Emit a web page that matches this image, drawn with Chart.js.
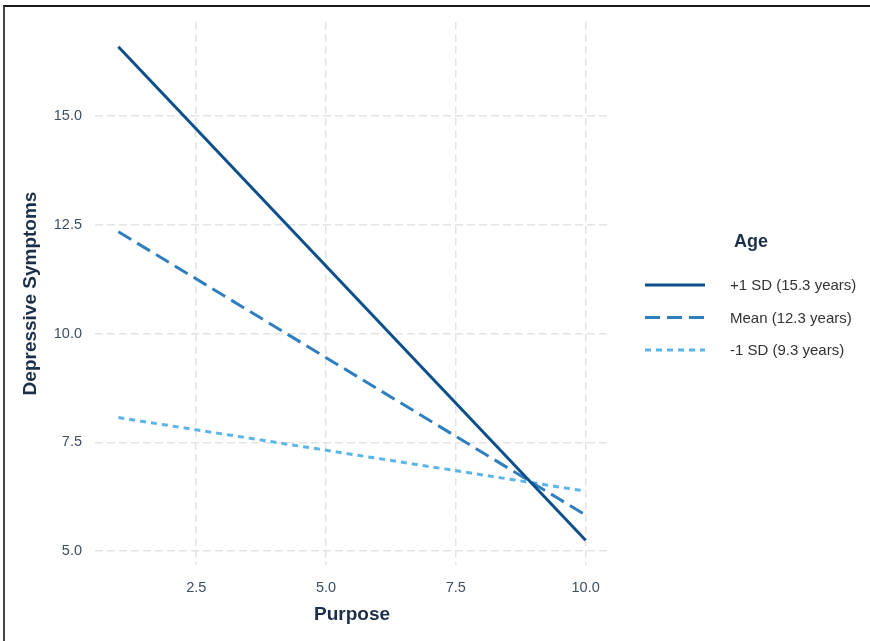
<!DOCTYPE html>
<html lang="en">
<head>
  <meta charset="UTF-8">
  <title>Purpose x Age: Depressive Symptoms</title>
  <style>
    html, body { margin: 0; padding: 0; background: #fff; }
    #wrap { position: relative; width: 870px; height: 641px; overflow: hidden; }
    #frame { position: absolute; left: 3px; top: 5px; right: -4px; bottom: -4px;
             border-top: 2px solid #1a1a1a; border-left: 2px solid #444; pointer-events: none; }
    canvas { position: absolute; left: 0; top: 0; }
  </style>
  <script src="https://cdn.jsdelivr.net/npm/chart.js"></script>
</head>
<body>
  <div id="wrap">
    <canvas id="chart" width="870" height="641"></canvas>
    <div id="frame"></div>
  </div>
  <script>
    // values (simple slopes at Purpose = 1 and 10)
    const purpose = [1, 10];
    const plus1SD = [16.59, 5.25];
    const meanAge = [12.34, 5.83];
    const minus1SD = [8.07, 6.38];
    const seriesLabels = ['+1 SD (15.3 years)', 'Mean (12.3 years)', '-1 SD (9.3 years)'];
    const xTicks = [2.5, 5.0, 7.5, 10.0];
    const yTicks = [5.0, 7.5, 10.0, 12.5, 15.0];

    const FONT = "'Liberation Sans', Arial, sans-serif";
    const tickColor = '#3e4f5f';
    const titleColor = '#1c2f4a';
    const gridColor = '#e3e3e3';

    const pts = ys => purpose.map((x, i) => ({ x: x, y: ys[i] }));

    const styles = [
      { color: '#0d4f8b', dash: [] },
      { color: '#2f7fbe', dash: [15, 7] },
      { color: '#5cb5e8', dash: [6, 5] }
    ];

    // legend drawn on the canvas with each dataset's own style
    const ageLegend = {
      id: 'ageLegend',
      afterDraw(chart) {
        const ctx = chart.ctx;
        ctx.save();
        ctx.fillStyle = titleColor;
        ctx.font = 'bold 18px ' + FONT;
        ctx.textAlign = 'left';
        ctx.textBaseline = 'middle';
        ctx.fillText('Age', 734, 242);
        chart.data.datasets.forEach((ds, i) => {
          const y = 285 + i * 32.5;
          ctx.beginPath();
          ctx.strokeStyle = ds.borderColor;
          ctx.lineWidth = ds.borderWidth;
          ctx.setLineDash(ds.borderDash || []);
          ctx.moveTo(645, y);
          ctx.lineTo(705, y);
          ctx.stroke();
          ctx.setLineDash([]);
          ctx.fillStyle = '#333';
          ctx.font = '15px ' + FONT;
          ctx.fillText(ds.label, 730, y + 1);
        });
        ctx.restore();
      }
    };

    const ctx = document.getElementById('chart').getContext('2d');
    new Chart(ctx, {
      type: 'scatter',
      data: {
        datasets: [plus1SD, meanAge, minus1SD].map((ys, i) => ({
          label: seriesLabels[i],
          data: pts(ys),
          showLine: true,
          borderColor: styles[i].color,
          backgroundColor: styles[i].color,
          borderDash: styles[i].dash,
          borderWidth: 3,
          pointRadius: 0,
          borderCapStyle: 'butt'
        }))
      },
      options: {
        responsive: false,
        animation: false,
        layout: { padding: { top: 22, right: 261, bottom: 0, left: 0 } },
        plugins: {
          legend: { display: false },
          tooltip: { enabled: false }
        },
        scales: {
          x: {
            type: 'linear',
            min: 0.55,
            max: 10.45,
            afterBuildTicks: s => { s.ticks = xTicks.map(v => ({ value: v })); },
            afterFit: s => { s.height = 76; },
            border: { display: false, dash: [8, 4] },
            grid: { color: gridColor, lineWidth: 1.5, drawTicks: false },
            ticks: {
              padding: 14, color: tickColor, font: { family: FONT, size: 14.5 },
              callback: v => v.toFixed(1)
            },
            title: {
              display: true, text: 'Purpose', color: titleColor,
              font: { family: FONT, size: 19, weight: 'bold' },
              padding: { top: 0, bottom: 15 }
            }
          },
          y: {
            min: 4.683,
            max: 17.157,
            afterBuildTicks: s => { s.ticks = yTicks.map(v => ({ value: v })); },
            afterFit: s => { s.width = 95; },
            border: { display: false, dash: [8, 4] },
            grid: { color: gridColor, lineWidth: 1.5, drawTicks: false },
            ticks: {
              padding: 13, color: tickColor, font: { family: FONT, size: 14.5 },
              callback: v => v.toFixed(1)
            },
            title: {
              display: true, text: 'Depressive Symptoms', color: titleColor,
              font: { family: FONT, size: 19, weight: 'bold' },
              padding: { top: 19, bottom: 0 }
            }
          }
        }
      },
      plugins: [ageLegend]
    });
  </script>
</body>
</html>
